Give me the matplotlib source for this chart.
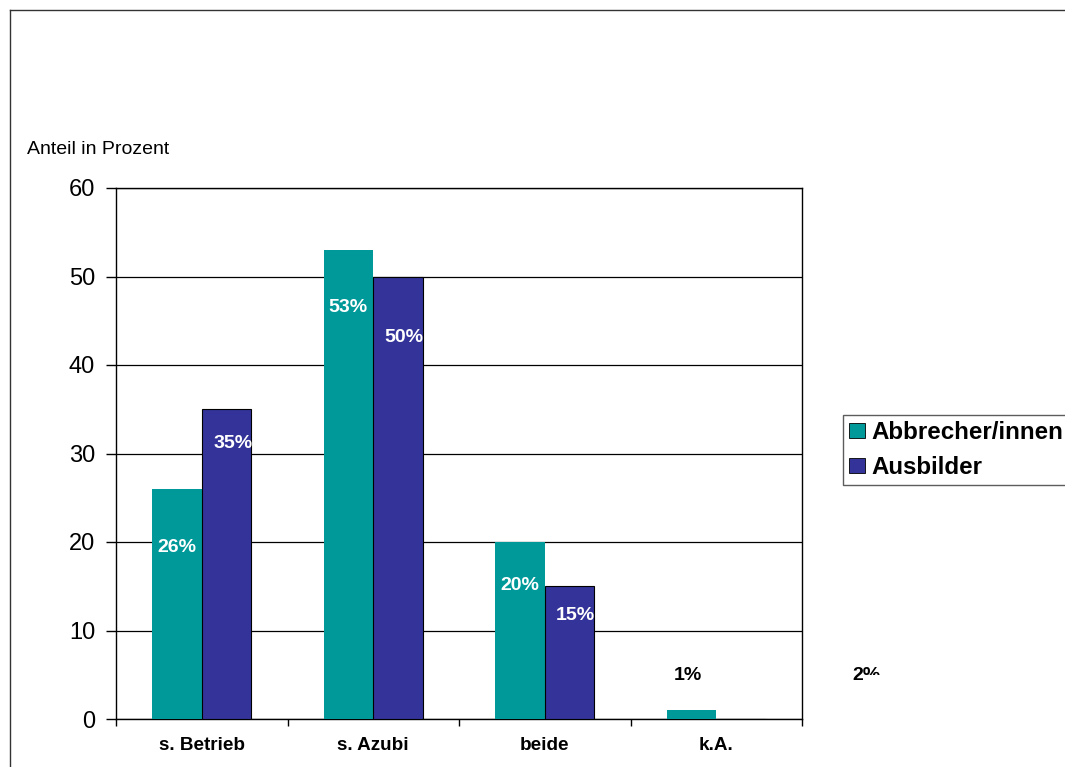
import matplotlib
matplotlib.use("Agg")
import matplotlib.pyplot as plt
import numpy as np
from matplotlib.lines import Line2D
from matplotlib.patches import Polygon
from matplotlib.transforms import IdentityTransform

categories = ["s. Betrieb", "s. Azubi", "beide", "k.A."]
abbrecher = [26, 53, 20, 1]
ausbilder = [35, 50, 15, 0]
abbrecher_labels = ["26%", "53%", "20%", "1%"]
ausbilder_labels = ["35%", "50%", "15%", "2%"]
series_names = ["Abbrecher/innen", "Ausbilder"]
yticks = [0, 10, 20, 30, 40, 50, 60]

teal = "#009999"
navy = "#333399"

# label offsets (pixels) relative to bar top centre
abbrecher_off = [(0, -59), (0, -58), (0, -44), (-4, 35)]
ausbilder_off = [(6, -34), (6, -61), (6, -29), (125, 44)]

plt.rcParams['font.family'] = ['Liberation Sans', 'DejaVu Sans']

W, H = 1065, 767
fig = plt.figure(figsize=(W / 100, H / 100), dpi=100)
ax = fig.add_axes([116 / W, 1 - 719 / H, (802 - 116) / W, (719 - 188) / H])

x = np.arange(len(categories))
bw = 0.29
b1 = ax.bar(x - bw / 2, abbrecher, bw, color=teal, edgecolor="none", zorder=3)
b2 = ax.bar(x + bw / 2, ausbilder, bw, color=navy, edgecolor="black", linewidth=0.8, zorder=3)

ax.set_xlim(-0.5, len(categories) - 0.5)
ax.set_ylim(0, 60)
ax.set_yticks(yticks)
ax.tick_params(axis='y', labelsize=17, direction='out', length=7, pad=8, width=1)
ax.set_xticks(np.arange(len(categories) + 1) - 0.5)
ax.set_xticklabels([])
ax.tick_params(axis='x', which='major', direction='out', length=5, width=1)
ax.set_xticks(x, minor=True)
ax.set_xticklabels(categories, minor=True, fontweight='bold', fontsize=13.6)
ax.tick_params(axis='x', which='minor', length=0, pad=13)
ax.yaxis.grid(True, color="black", linewidth=0.9, zorder=0)
ax.set_axisbelow(True)
for s in ax.spines.values():
    s.set_linewidth(1)
    s.set_color("black")

# value labels
for i, (v, lab) in enumerate(zip(abbrecher, abbrecher_labels)):
    dx, dy = abbrecher_off[i]
    ax.annotate(lab, (x[i] - bw / 2, v), xytext=(dx, dy), textcoords='offset pixels',
                ha='center', va='center', color='white' if dy < 0 else 'black',
                fontweight='bold', fontsize=14, zorder=5)
for i, (v, lab) in enumerate(zip(ausbilder, ausbilder_labels)):
    dx, dy = ausbilder_off[i]
    ax.annotate(lab, (x[i] + bw / 2, v), xytext=(dx, dy), textcoords='offset pixels',
                ha='center', va='center', color='white' if dy < 0 else 'black',
                fontweight='bold', fontsize=14, zorder=5, annotation_clip=False)

# the reference shows the outside "2%" label partly cut off: mask part of it
yc = H - 675
mask = Polygon([(866, 0), (866, yc), (881, yc), (881, H - 500), (1000, H - 500), (1000, 0)],
               closed=True, transform=IdentityTransform(), facecolor="white",
               edgecolor="none", zorder=20)
fig.add_artist(mask)

fig.text(27 / W, 1 - 149 / H, "Anteil in Prozent", fontsize=14, ha='left', va='center')

leg = fig.legend([b1, b2], series_names, loc='upper left', bbox_to_anchor=(843 / W, 1 - 415 / H),
                 frameon=True, fancybox=False, prop={'weight': 'bold', 'size': 17.4},
                 handlelength=0.67, handleheight=0.6, handletextpad=0.25, borderpad=0.25,
                 labelspacing=0.5, borderaxespad=0)
leg.get_frame().set_edgecolor("#333333")
leg.get_frame().set_linewidth(1)
for h in leg.legend_handles:
    h.set_edgecolor("black")
    h.set_linewidth(0.6)

# outer frame
fig.add_artist(Line2D([10 / W, 10 / W], [0, 1 - 10 / H], transform=fig.transFigure, color="#333333", linewidth=1))
fig.add_artist(Line2D([10 / W, 1], [1 - 10 / H, 1 - 10 / H], transform=fig.transFigure, color="#333333", linewidth=1))

fig.savefig("out.png", dpi=100)
